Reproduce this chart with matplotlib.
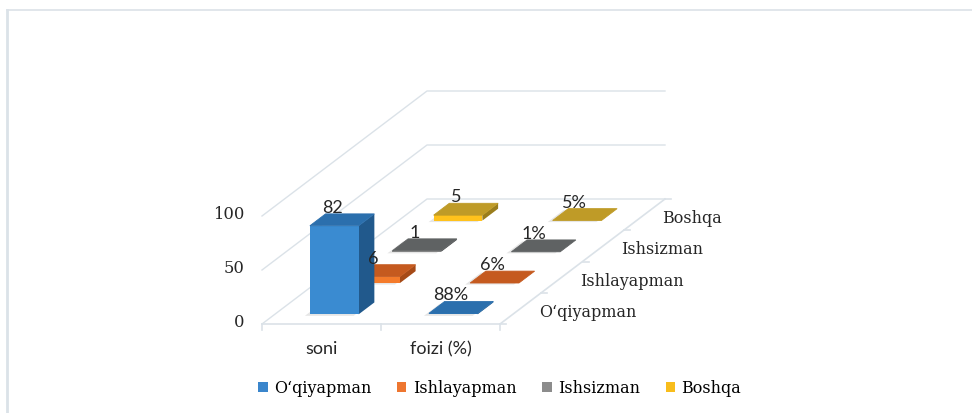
import matplotlib
matplotlib.use('Agg')
import matplotlib.pyplot as plt
from matplotlib.patches import Polygon, Patch

categories = ['soni', 'foizi (%)']
series = ['O\u2018qiyapman', 'Ishlayapman', 'Ishsizman', 'Boshqa']
soni = [82, 6, 1, 5]
foizi = [0.88, 0.06, 0.01, 0.05]
foizi_labels = ['88%', '6%', '1%', '5%']
yticks = [0, 50, 100]

# face colours per series: front, top, side
front_c = ['#3a8bd1', '#f47b2b', '#8a8a8a', '#ffc21c']
top_c = ['#2b6fad', '#c55a1f', '#5f6263', '#bf9b27']
side_c = ['#21598c', '#a64a17', '#474a4b', '#9a7d1c']
legend_c = ['#3a86cc', '#ee7630', '#8c8c8c', '#f8bd1c']

serif = ['DejaVu Serif']
sans = ['Lato', 'DejaVu Sans']
grid_c = '#dbe2e8'

# oblique projection of the Excel 3D chart (pixel units)
X0, Y0 = 262, 325
CW = 119          # width of one category
DX, DY = 41.25, 31.25   # one series step in depth
ZS = 1.08         # pixels per value unit
BW, BD = 0.41, 0.38


def proj(c, d, z):
    return (X0 + c * CW + d * DX, Y0 - d * DY - z * ZS)


fig = plt.figure(figsize=(9.72, 4.14), dpi=100)
ax = fig.add_axes([0, 0, 1, 1])
ax.set_xlim(0, 972)
ax.set_ylim(414, 0)
ax.axis('off')

# outer frame
ax.plot([7, 972], [11, 11], color=grid_c, lw=1.2)
ax.plot([7, 7], [11, 414], color=grid_c, lw=2)

nser = len(series)
ncat = len(categories)

# walls and floor
for z in yticks:
    xs, ys = zip(proj(0, 0, z), proj(0, nser, z), proj(ncat, nser, z))
    ax.plot(xs, ys, color=grid_c, lw=1, zorder=0.5)
xs, ys = zip(proj(0, 0, 0), proj(ncat, 0, 0), proj(ncat, nser, 0))
ax.plot(xs, ys, color=grid_c, lw=1.2, zorder=0.5)
for c in range(ncat + 1):
    x, y = proj(c, 0, 0)
    ax.plot([x, x], [y, y + 6], color=grid_c, lw=1.2, zorder=0.5)
for d in range(nser + 1):
    x, y = proj(ncat, d, 0)
    ax.plot([x, x + 6], [y, y], color=grid_c, lw=1.2, zorder=0.5)

# tick labels
for z in yticks:
    x, y = proj(0, 0, z)
    ax.text(x - 18, y - 2, str(z), ha='right', va='center', fontsize=11.8,
            family=serif, color='#262626')
for c, name in enumerate(categories):
    x, y = proj(c + 0.5, 0, 0)
    ax.text(x, y + 24, name, ha='center', va='center', fontsize=13,
            family=sans, color='#262626')
for d, name in enumerate(series):
    x, y = proj(ncat, d + 0.5, 0)
    ax.text(x + 18, y + 3, name, ha='left', va='center', fontsize=11.5,
            family=serif, color='#262626')


def bar(c, d, v, k):
    c0, c1 = c + 0.5 - BW / 2, c + 0.5 + BW / 2
    d0, d1 = d + 0.5 - BD / 2, d + 0.5 + BD / 2
    # soft shadow
    sh = [proj(c0, d0, 0), proj(c1, d0, 0), proj(c1, d1, 0), proj(c0, d1, 0)]
    sh = [(x - 5, y + 1.5) for x, y in sh]
    ax.add_patch(Polygon(sh, closed=True, fc='#b8b8b8', ec='none', alpha=0.35))
    front = [proj(c0, d0, 0), proj(c1, d0, 0), proj(c1, d0, v), proj(c0, d0, v)]
    side = [proj(c1, d0, 0), proj(c1, d1, 0), proj(c1, d1, v), proj(c1, d0, v)]
    top = [proj(c0, d0, v), proj(c1, d0, v), proj(c1, d1, v), proj(c0, d1, v)]
    ax.add_patch(Polygon(side, closed=True, fc=side_c[k], ec='none'))
    ax.add_patch(Polygon(front, closed=True, fc=front_c[k], ec='none'))
    ax.add_patch(Polygon(top, closed=True, fc=top_c[k], ec=top_c[k], lw=0.6))


values = [soni, foizi]
labels = [[str(v) for v in soni], foizi_labels]
for d in reversed(range(nser)):
    for c in range(ncat):
        v = values[c][d]
        bar(c, d, v, d)
        x, y = proj(c + 0.5, d + 0.5, v)
        ax.text(x - 10, y - 13, labels[c][d], ha='center', va='center',
                fontsize=13, family=sans, color='#262626')

handles = [Patch(fc=legend_c[i], ec='none') for i in range(nser)]
fig.legend(handles, series, loc='center', bbox_to_anchor=(0.514, 1 - 389 / 414),
           ncol=4, frameon=False, handlelength=0.6, handleheight=0.6,
           handletextpad=0.4, columnspacing=1.6,
           prop={'family': serif, 'size': 11.5})

fig.savefig('out.png', dpi=100)
